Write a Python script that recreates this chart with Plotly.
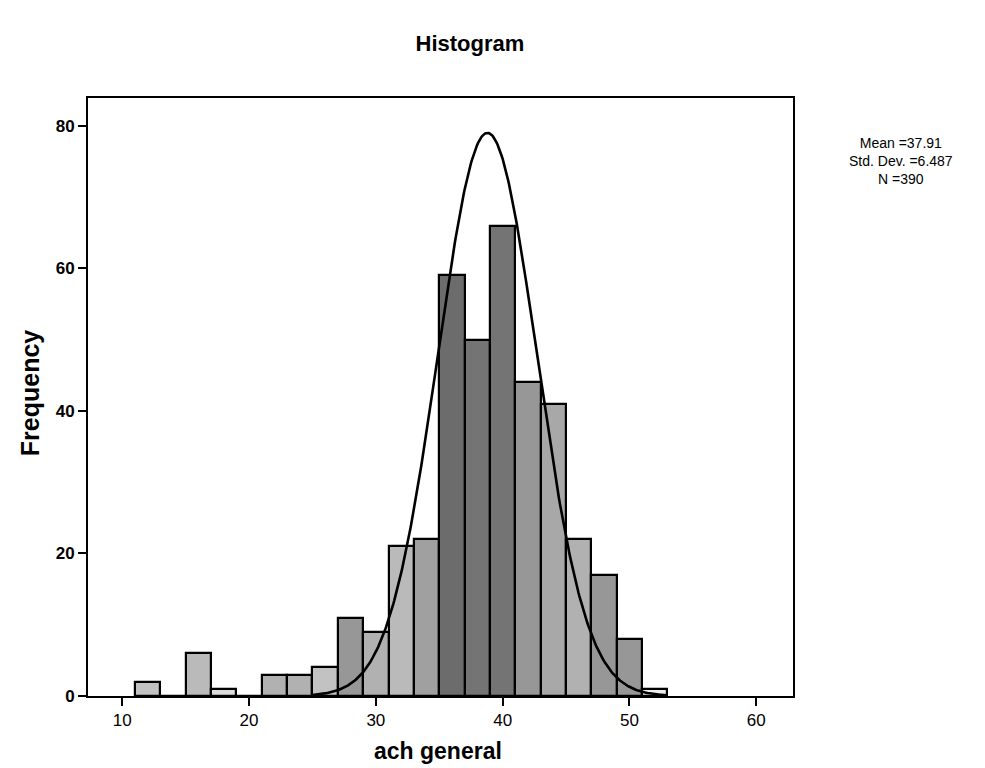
import numpy as np
import plotly.graph_objects as go

# ---- data ----
bin_left_edges = [11, 13, 15, 17, 19, 21, 23, 25, 27, 29, 31, 33, 35, 37, 39, 41, 43, 45, 47, 49, 51]
frequencies    = [2, 0, 6, 1, 0, 3, 3, 4, 11, 9, 21, 22, 59, 50, 66, 44, 41, 22, 17, 8, 1]
bin_width = 2

curve_center = 38.8
curve_sd = 3.9
curve_peak = 79

x_ticks = [10, 20, 30, 40, 50, 60]
y_ticks = [0, 20, 40, 60, 80]

stats_text = "Mean =37.91<br>Std. Dev. =6.487<br>N =390"

# ---- styling (darkness of the stippled fill for each bar) ----
bar_shade = [0.35, 0.3, 0.4, 0.2, 0.3, 0.45, 0.45, 0.35, 0.6, 0.45, 0.4, 0.55,
             0.85, 0.8, 0.8, 0.6, 0.5, 0.45, 0.6, 0.6, 0.1]

def gray(d):
    v = int(round(255 * (1 - 0.68 * d)))
    return "#{0:02x}{0:02x}{0:02x}".format(v)

bar_colors = [gray(d) for d in bar_shade]

centers = [e + bin_width / 2 for e in bin_left_edges]

fig = go.Figure()
fig.add_trace(go.Bar(
    x=centers, y=frequencies, width=bin_width,
    marker=dict(color=bar_colors, line=dict(color="black", width=2.2)),
    showlegend=False, hoverinfo="x+y",
))

cx = np.linspace(25, 53, 400)
cy = curve_peak * np.exp(-0.5 * ((cx - curve_center) / curve_sd) ** 2)
fig.add_trace(go.Scatter(x=cx, y=cy, mode="lines",
                         line=dict(color="black", width=2.6),
                         showlegend=False, hoverinfo="skip"))

font_family = "Arial, Liberation Sans, sans-serif"

fig.update_layout(
    width=985, height=768,
    margin=dict(l=80, r=200, t=90, b=80),
    paper_bgcolor="white", plot_bgcolor="white",
    bargap=0,
    font=dict(family=font_family, color="black"),
    title=dict(text="<b>Histogram</b>", x=0.469, xref="container",
               y=0.954, yref="container", xanchor="center", yanchor="middle",
               font=dict(size=22, family=font_family, color="black")),
    xaxis=dict(range=[7.3, 62.9], tickvals=x_ticks, ticks="outside",
               ticklen=8, tickwidth=2, tickcolor="black",
               showline=True, linewidth=2, linecolor="black", mirror=True,
               showgrid=False, zeroline=False,
               tickfont=dict(size=17, family=font_family, color="black")),
    yaxis=dict(range=[0, 83.9], tickvals=y_ticks,
               ticktext=[f"<b>{v}</b>" for v in y_ticks],
               ticks="outside", ticklen=8, tickwidth=2, tickcolor="black",
               showline=True, linewidth=2, linecolor="black", mirror=True,
               showgrid=False, zeroline=False,
               tickfont=dict(size=17, family=font_family, color="black")),
    annotations=[
        dict(text="<b>ach general</b>", xref="paper", yref="paper",
             x=0.497, y=-0.092, xanchor="center", yanchor="middle",
             showarrow=False, font=dict(size=23, family=font_family)),
        dict(text="<b>Frequency</b>", xref="paper", yref="paper",
             x=-0.0823, y=0.508, xanchor="center", yanchor="middle",
             textangle=-90, showarrow=False,
             font=dict(size=25, family=font_family)),
        dict(text=stats_text, xref="paper", yref="paper",
             x=1.153, y=0.895, xanchor="center", yanchor="middle",
             align="center", showarrow=False,
             font=dict(size=14, family=font_family)),
    ],
)

fig.write_html("out.html")
